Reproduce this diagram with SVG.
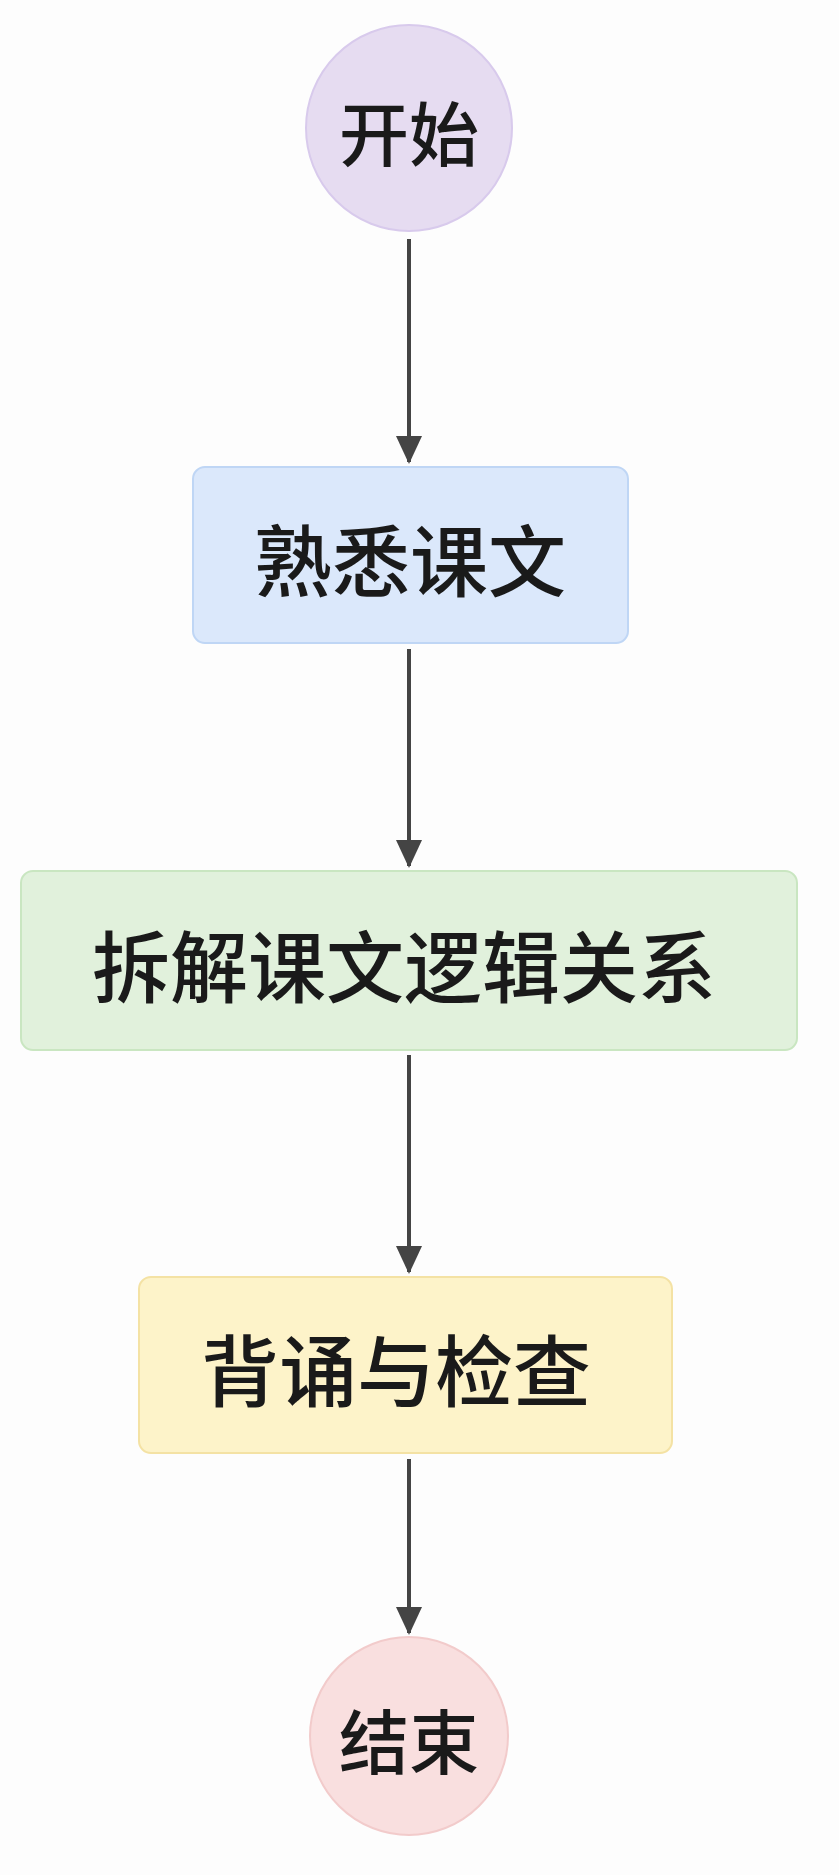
<svg xmlns="http://www.w3.org/2000/svg" width="839" height="1875" viewBox="0 0 839 1875">
<style>
text{font-family:"Noto Sans CJK SC","Noto Sans",sans-serif;font-weight:500;fill:#1a1a1a;text-anchor:middle;dominant-baseline:central}
.c{font-size:70px}.b{font-size:78px}
.e{stroke:#444;stroke-width:4;fill:none;marker-end:url(#a)}
</style>
<defs><marker id="a" viewBox="0 0 28 28" refX="26" refY="14" markerWidth="28" markerHeight="28" orient="auto" markerUnits="userSpaceOnUse"><path d="M0,1 L28,14 L0,27 z" fill="#444"/></marker></defs>
<rect width="839" height="1875" fill="#fdfdfd"/>
<g id="edges">
<path class="e" d="M409,239 V462"/>
<path class="e" d="M409,649 V866"/>
<path class="e" d="M409,1055 V1272"/>
<path class="e" d="M409,1459 V1633"/>
</g>
<g id="start"><circle cx="409" cy="128" r="103" fill="#e6dcf1" stroke="#d8caec" stroke-width="2"/><text class="c" x="409" y="130">开始</text></g>
<g id="n1"><rect x="193" y="467" width="435" height="176" rx="12" fill="#dbe8fb" stroke="#bfd6f5" stroke-width="2"/><text class="b" x="410" y="557">熟悉课文</text></g>
<g id="n2"><rect x="21" y="871" width="776" height="179" rx="12" fill="#e1f1dc" stroke="#c9e6c1" stroke-width="2"/><text class="b" x="404" y="963">拆解课文逻辑关系</text></g>
<g id="n3"><rect x="139" y="1277" width="533" height="176" rx="12" fill="#fdf3c9" stroke="#f4e2a4" stroke-width="2"/><text class="b" x="396" y="1367">背诵与检查</text></g>
<g id="end"><circle cx="409" cy="1736" r="99" fill="#f9dfdf" stroke="#f2cbcb" stroke-width="2"/><text class="c" x="409" y="1738">结束</text></g>
</svg>
